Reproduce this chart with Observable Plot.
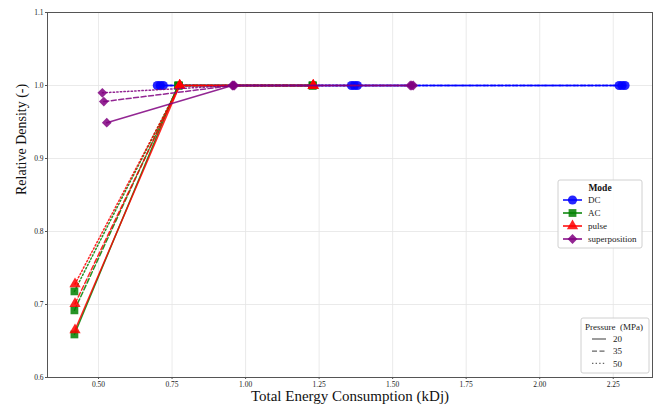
<!DOCTYPE html>
<html><head><meta charset="utf-8">
<script src="https://cdn.jsdelivr.net/npm/d3@7"></script>
<script src="https://cdn.jsdelivr.net/npm/@observablehq/plot@0.6"></script>
<style>body{margin:0;background:#fff;} svg{display:block;}</style>
</head><body><div id="chart"></div>
<script>
// ---- data ----
const modes = ["DC", "AC", "pulse", "superposition"];
const modeColors = ["#0000ff", "#008000", "#ff0000", "#800080"];
const modeSymbols = ["circle", "square", "triangle", "diamond2"];
const pressures = [20, 35, 50];
const pressureDash = ["none", "5,2.5", "1.4,2.2"];

// energy (kDj) and relative density, one row per pressure (20, 35, 50 MPa)
const dcEnergy = [[0.700, 1.360, 2.270], [0.710, 1.370, 2.280], [0.720, 1.380, 2.290]];
const dcDensity = [[1.0, 1.0, 1.0], [1.0, 1.0, 1.0], [1.0, 1.0, 1.0]];
const acEnergy = [[0.418, 0.770, 1.228], [0.418, 0.772, 1.228], [0.418, 0.774, 1.228]];
const acDensity = [[0.659, 1.0, 1.0], [0.692, 1.0, 1.0], [0.718, 1.0, 1.0]];
const pulseEnergy = [[0.420, 0.776, 1.230], [0.420, 0.776, 1.230], [0.420, 0.776, 1.230]];
const pulseDensity = [[0.665, 1.0, 1.0], [0.701, 1.0, 1.0], [0.728, 1.0, 1.0]];
const supEnergy = [[0.528, 0.955, 1.560], [0.518, 0.958, 1.565], [0.513, 0.962, 1.570]];
const supDensity = [[0.949, 1.0, 1.0], [0.978, 1.0, 1.0], [0.990, 1.0, 1.0]];

const xTicks = [0.50, 0.75, 1.00, 1.25, 1.50, 1.75, 2.00, 2.25];
const yTicks = [0.6, 0.7, 0.8, 0.9, 1.0, 1.1];

// ---- build table ----
const energies = [dcEnergy, acEnergy, pulseEnergy, supEnergy];
const densities = [dcDensity, acDensity, pulseDensity, supDensity];
const rows = [];
modes.forEach((m, i) => pressures.forEach((p, j) => {
  energies[i][j].forEach((e, k) => rows.push({mode: m, pressure: p, energy: e, density: densities[i][j][k]}));
}));

const symbolR = {circle: 4.6, square: 4.4, triangle: 4.2, diamond2: 4.4};
const serif = "'Liberation Serif', 'Times New Roman', serif";

const marks = [
  Plot.gridX(xTicks, {stroke: "#e4e4e4", strokeOpacity: 1, strokeWidth: 0.8}),
  Plot.gridY(yTicks, {stroke: "#e4e4e4", strokeOpacity: 1, strokeWidth: 0.8}),
];
modes.forEach((m, i) => pressures.forEach((p, j) => {
  const d = rows.filter(r => r.mode === m && r.pressure === p);
  marks.push(Plot.line(d, {x: "energy", y: "density", stroke: modeColors[i], strokeWidth: 1.5,
    strokeOpacity: 0.85, strokeDasharray: pressureDash[j]}));
  marks.push(Plot.dot(d, {x: "energy", y: "density", symbol: modeSymbols[i], fill: modeColors[i],
    fillOpacity: 0.85, stroke: "none", r: symbolR[modeSymbols[i]]}));
}));
marks.push(
  Plot.frame({stroke: "#555", strokeWidth: 1}),
  Plot.axisX(xTicks, {tickFormat: d3.format(".2f"), tickSize: 2, tickPadding: 2.5, fontSize: 7.5, label: null, stroke: "#555"}),
  Plot.axisY(yTicks, {tickFormat: d3.format(".1f"), tickSize: 2, tickPadding: 2, fontSize: 7.5, label: null, stroke: "#555"}),
  Plot.text(["Relative Density (-)"], {frameAnchor: "left", rotate: -90, dx: -26, fontSize: 14, fill: "#111"}),
  Plot.text(["Total Energy Consumption (kDj)"], {frameAnchor: "bottom", dy: 23.5, fontSize: 15, fill: "#111"})
);

const chart = Plot.plot({
  width: 655, height: 409,
  marginLeft: 47, marginRight: 3, marginTop: 12, marginBottom: 32,
  x: {domain: [0.3265, 2.3835]},
  y: {domain: [0.6, 1.1]},
  style: {fontFamily: serif, background: "#fff", color: "#222"},
  marks
});
document.getElementById("chart").appendChild(chart);

// ---- legends ----
const svg = d3.select(chart);
const symType = {circle: d3.symbolCircle, square: d3.symbolSquare, triangle: d3.symbolTriangle,
  diamond2: d3.symbolDiamond2 || d3.symbolDiamond};
const lg = svg.append("g").attr("font-family", serif).attr("text-anchor", "start");
lg.append("rect").attr("x", 558).attr("y", 180).attr("width", 84).attr("height", 68).attr("rx", 2)
  .attr("fill", "#fff").attr("fill-opacity", 0.85).attr("stroke", "#d0d0d0");
lg.append("text").attr("x", 600).attr("y", 188).attr("text-anchor", "middle").attr("dy", "0.35em")
  .attr("font-size", 9.5).attr("font-weight", "bold").attr("fill", "#111").text("Mode");
modes.forEach((m, i) => {
  const y = 200 + i * 13;
  lg.append("line").attr("x1", 563).attr("x2", 582).attr("y1", y).attr("y2", y)
    .attr("stroke", modeColors[i]).attr("stroke-width", 1.5);
  lg.append("path").attr("transform", `translate(572.5,${y})`)
    .attr("d", d3.symbol(symType[modeSymbols[i]], Math.PI * symbolR[modeSymbols[i]] ** 2)())
    .attr("fill", modeColors[i]).attr("fill-opacity", 0.85);
  lg.append("text").attr("x", 588).attr("y", y).attr("dy", "0.35em").attr("font-size", 9).attr("fill", "#222").text(m);
});
const pg = svg.append("g").attr("font-family", serif).attr("text-anchor", "start");
pg.append("rect").attr("x", 581).attr("y", 318).attr("width", 68).attr("height", 55).attr("rx", 2)
  .attr("fill", "#fff").attr("fill-opacity", 0.85).attr("stroke", "#d0d0d0");
pg.append("text").attr("x", 614).attr("y", 327).attr("text-anchor", "middle").attr("dy", "0.35em")
  .attr("font-size", 9).attr("fill", "#222").text("Pressure  (MPa)");
pressures.forEach((p, j) => {
  const y = 339 + j * 12.2;
  pg.append("line").attr("x1", 592).attr("x2", 606).attr("y1", y).attr("y2", y)
    .attr("stroke", "#666").attr("stroke-width", 1.3).attr("stroke-dasharray", pressureDash[j]);
  pg.append("text").attr("x", 613).attr("y", y).attr("dy", "0.35em").attr("font-size", 9).attr("fill", "#222").text(p);
});
</script>
</body></html>
